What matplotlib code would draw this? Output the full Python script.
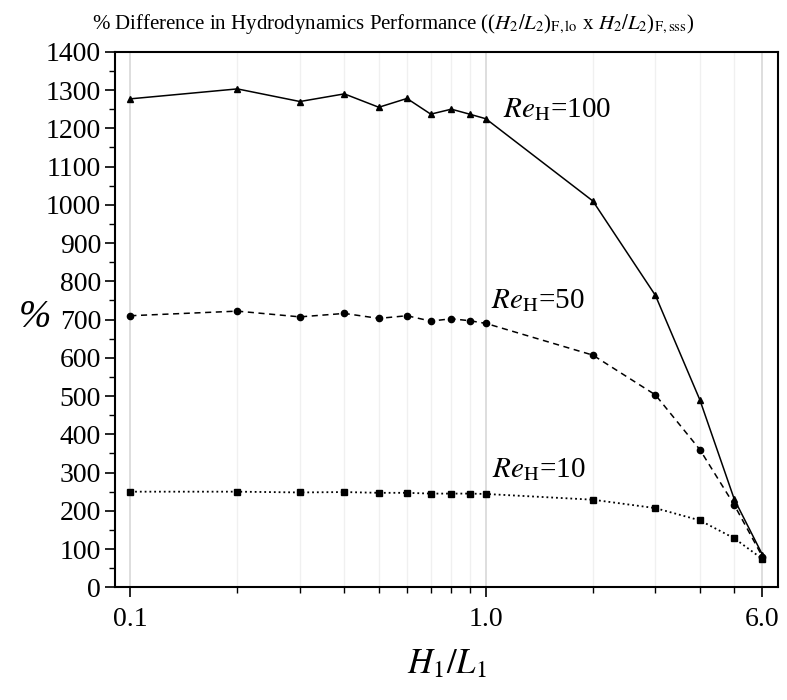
import numpy as np
import matplotlib
matplotlib.use("Agg")
import matplotlib.pyplot as plt
from matplotlib.ticker import FixedLocator, NullFormatter, MultipleLocator

plt.rcParams['font.family'] = ['Liberation Serif', 'DejaVu Serif']
plt.rcParams['mathtext.fontset'] = 'stix'

ratio = [0.1, 0.2, 0.3, 0.4, 0.5, 0.6, 0.7, 0.8, 0.9, 1.0, 2.0, 3.0, 4.0, 5.0, 6.0]
re100 = [1277, 1303, 1270, 1290, 1255, 1278, 1237, 1250, 1237, 1225, 1010, 763, 490, 230, 85]
re50 = [710, 722, 707, 716, 703, 710, 696, 702, 697, 690, 607, 503, 360, 215, 80]
re10 = [250, 250, 248, 249, 247, 247, 245, 245, 245, 244, 229, 207, 175, 128, 74]

major_x = [0.1, 1.0, 6.0]
minor_x = [0.2, 0.3, 0.4, 0.5, 0.6, 0.7, 0.8, 0.9, 2, 3, 4, 5]

fig = plt.figure(figsize=(7.87, 7.0), dpi=100)
ax = fig.add_axes([0.146, 0.161, 0.843, 0.765])

for v in minor_x:
    ax.axvline(v, color='#f0f0f0', lw=1.0, zorder=0)
for v in major_x:
    ax.axvline(v, color='#d8d8d8', lw=1.2, zorder=0)

ax.plot(ratio, re100, '-', color='black', lw=1.1, marker='^', ms=5)
ax.plot(ratio, re50, '--', color='black', lw=1.1, marker='o', ms=4.5, dashes=(4, 3))
ax.plot(ratio, re10, ':', color='black', lw=1.3, marker='s', ms=4)

ax.set_xscale('log')
ax.set_xlim(0.0905, 6.65)
ax.set_ylim(0, 1400)
ax.xaxis.set_major_locator(FixedLocator(major_x))
ax.xaxis.set_minor_locator(FixedLocator(minor_x))
ax.xaxis.set_minor_formatter(NullFormatter())
ax.set_xticklabels(['0.1', '1.0', '6.0'])
ax.yaxis.set_major_locator(MultipleLocator(100))
ax.yaxis.set_minor_locator(MultipleLocator(50))

ax.tick_params(axis='both', which='major', direction='out', length=7, width=1.2,
               labelsize=20, top=False, right=False)
ax.tick_params(axis='x', which='major', pad=7)
ax.tick_params(axis='y', which='major', pad=3)
ax.tick_params(axis='both', which='minor', direction='out', length=4, width=1.0,
               top=False, right=False)
for s in ax.spines.values():
    s.set_linewidth(1.5)

ax.set_xlabel(r'$H_1/L_1$', fontsize=25, labelpad=12)
ax.set_ylabel('%', fontsize=28, rotation=0, labelpad=8, y=0.47, style='italic')

ax.text(1.12, 1230, r'$Re_\mathrm{H}$=100', fontsize=21, va='baseline')
ax.text(1.033, 730, r'$Re_\mathrm{H}$=50', fontsize=21, va='baseline')
ax.text(1.04, 288, r'$Re_\mathrm{H}$=10', fontsize=21, va='baseline')

fig.text(0.5, 0.966,
         r'% Difference in Hydrodynamics Performance (($H_2/L_2$)$_\mathrm{F,lo}$ x $H_2/L_2$)$_\mathrm{F,sss}$)',
         ha='center', va='center', fontsize=15)

fig.savefig('out.png', dpi=100)
